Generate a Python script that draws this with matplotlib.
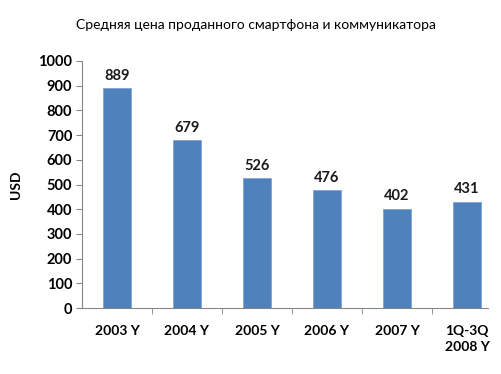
import matplotlib.pyplot as plt

# values
years = ['2003 Y', '2004 Y', '2005 Y', '2006 Y', '2007 Y', '1Q-3Q\n2008 Y']
prices = [889, 679, 526, 476, 402, 431]

plt.rcParams['font.family'] = ['Lato', 'DejaVu Sans']

fig = plt.figure(figsize=(5.02, 3.74), dpi=100)
ax = fig.add_axes([82 / 502, 1 - 308 / 374, 1 - 82 / 502, 247 / 374])

x = range(len(years))
bars = ax.bar(x, prices, width=0.39, color='#4F81BD', edgecolor='#7FA3D3', linewidth=0.6)

for b, v in zip(bars, prices):
    ax.annotate(str(v), (b.get_x() + b.get_width() / 2, v), xytext=(0, 4),
                textcoords='offset points', ha='center', va='bottom',
                fontsize=10.5, fontweight='bold', color='#1a1a1a')

ax.set_xlim(-0.5, 5.5)
ax.set_ylim(0, 1000)
ax.set_yticks(range(0, 1001, 100))
ax.tick_params(axis='y', labelsize=10.5, length=4, color='#868686', pad=3)
for lbl in ax.get_yticklabels():
    lbl.set_fontweight('bold')

ax.set_xticks(list(x))
ax.set_xticklabels(years, fontsize=10, fontweight='bold', va='top', linespacing=1.45)
ax.tick_params(axis='x', length=0, pad=12)
ax.set_xticks([i + 0.5 for i in range(len(years) - 1)], minor=True)
ax.tick_params(axis='x', which='minor', length=4, color='#868686')

for s in ['top', 'right']:
    ax.spines[s].set_visible(False)
ax.spines['left'].set_color('#868686')
ax.spines['bottom'].set_color('#868686')
ax.spines['bottom'].set_bounds(-0.5, 5.3)

ax.set_ylabel('USD', fontsize=10, fontweight='bold', labelpad=12)
fig.text(256 / 502, 1 - 25 / 374, 'Средняя цена проданного смартфона и коммуникатора',
         ha='center', va='center', fontsize=10)

fig.savefig('out.png', dpi=100)
